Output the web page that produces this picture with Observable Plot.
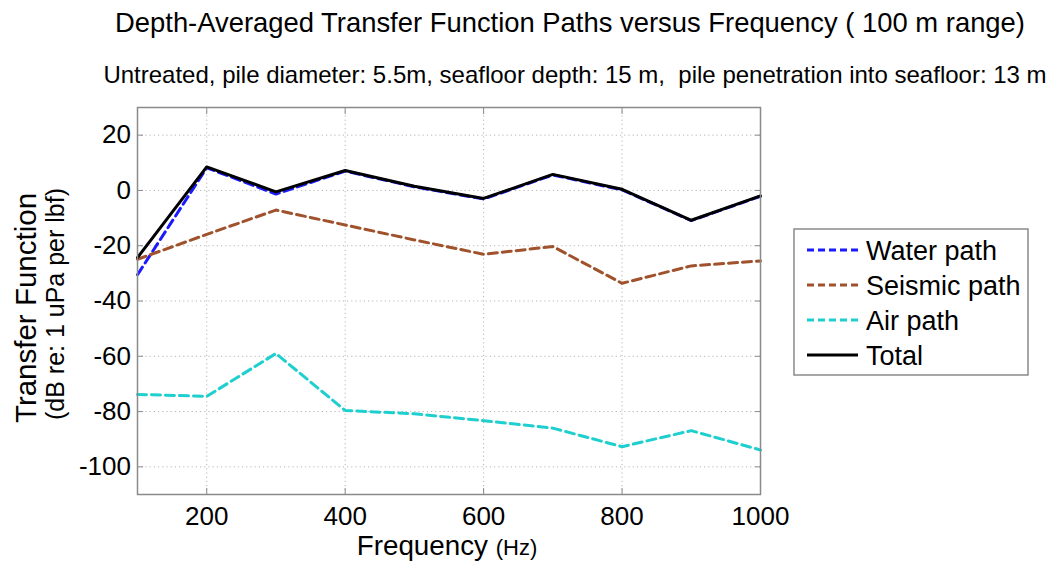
<!DOCTYPE html>
<html><head><meta charset="utf-8">
<script src="https://cdn.jsdelivr.net/npm/d3@7"></script>
<script src="https://cdn.jsdelivr.net/npm/@observablehq/plot@0.6"></script>
<style>body{margin:0;background:#fff} #chart{position:relative;width:1055px;height:564px}</style>
</head><body><div id="chart"></div>
<script>
// ---- data ----
const frequency   = [100, 200, 300, 400, 500, 600, 700, 800, 900, 1000];
const waterPath   = [-30.5, 8.2, -1.3, 7.0, 1.3, -3.1, 5.6, 0.2, -10.9, -2.1];
const seismicPath = [-24.9, -15.9, -7.1, -12.5, -17.9, -23.1, -20.3, -33.6, -27.3, -25.5];
const airPath     = [-73.8, -74.5, -59.0, -79.6, -80.8, -83.3, -86.0, -92.7, -86.9, -93.9];
const totalPath   = [-24.3, 8.5, -0.5, 7.2, 1.5, -2.9, 5.8, 0.4, -10.8, -2.0];

const seriesNames  = ["Water path", "Seismic path", "Air path", "Total"];
const seriesColors = ["#1a1aff", "#a0522d", "#1fcfcf", "#000000"];
const seriesDashed = [true, true, true, false];

const xTicks = [200, 400, 600, 800, 1000];
const yTicks = [-100, -80, -60, -40, -20, 0, 20];

const titleText    = "Depth-Averaged Transfer Function Paths versus Frequency ( 100 m range)";
const subtitleText = "Untreated, pile diameter: 5.5m, seafloor depth: 15 m,  pile penetration into seafloor: 13 m";
const xLabelMain = "Frequency", xLabelUnit = "(Hz)";
const yLabelMain = "Transfer Function", yLabelUnit = "(dB re: 1 uPa per lbf)";

// ---- build ----
const seriesValues = [waterPath, seismicPath, airPath, totalPath];
const rows = seriesNames.map((name, s) => frequency.map((f, i) => ({series: name, f, v: seriesValues[s][i]})));

const font = "'Liberation Sans', Arial, Helvetica, sans-serif";
const axisGrey = "#8a8a8a";
const dash = "9,5";
const plainNum = d => String(d);

const chart = Plot.plot({
  width: 1055, height: 564,
  marginLeft: 137, marginRight: 295, marginTop: 107, marginBottom: 70,
  style: {fontFamily: font, fontSize: "26px", color: "#000", background: "#fff"},
  x: {domain: [100, 1000]},
  y: {domain: [-110, 30]},
  marks: [
    Plot.ruleX(xTicks, {stroke: "#b5b5b5", strokeDasharray: "1.2,3", strokeWidth: 1}),
    Plot.ruleY(yTicks, {stroke: "#b5b5b5", strokeDasharray: "1.2,3", strokeWidth: 1}),
    ...rows.map((r, s) => Plot.line(r, {
      x: "f", y: "v", stroke: seriesColors[s], strokeWidth: 3,
      ...(seriesDashed[s] ? {strokeDasharray: dash} : {})
    })),
    Plot.frame({stroke: axisGrey, strokeWidth: 1.5}),
    Plot.axisX(xTicks, {anchor: "bottom", tickSize: -6, tickPadding: 18, stroke: axisGrey, fill: "#000", label: null, fontSize: 26, tickFormat: plainNum}),
    Plot.axisX(xTicks, {anchor: "top", tickSize: -6, stroke: axisGrey, label: null, tickFormat: () => ""}),
    Plot.axisY(yTicks, {anchor: "left", tickSize: -6, tickPadding: 12.5, stroke: axisGrey, fill: "#000", label: null, fontSize: 26, tickFormat: plainNum}),
    Plot.axisY(yTicks, {anchor: "right", tickSize: -6, stroke: axisGrey, label: null, tickFormat: () => ""})
  ]
});
document.getElementById("chart").appendChild(chart);

const svg = d3.select(chart);
svg.append("text").attr("x", 570).attr("y", 31.5).attr("text-anchor", "middle")
  .attr("font-family", font).attr("font-size", 27.4).attr("fill", "#000").style("white-space", "pre").text(titleText);
svg.append("text").attr("x", 575).attr("y", 83).attr("text-anchor", "middle")
  .attr("font-family", font).attr("font-size", 24).attr("fill", "#000").style("white-space", "pre").text(subtitleText);

const xl = svg.append("text").attr("x", 447).attr("y", 555).attr("text-anchor", "middle")
  .attr("font-family", font).attr("fill", "#000");
xl.append("tspan").attr("font-size", 27.8).text(xLabelMain + " ");
xl.append("tspan").attr("font-size", 22).text(xLabelUnit);

svg.append("text").attr("transform", "translate(36,308) rotate(-90)").attr("text-anchor", "middle")
  .attr("font-family", font).attr("font-size", 29.5).attr("fill", "#000").text(yLabelMain);
svg.append("text").attr("transform", "translate(64,304) rotate(-90)").attr("text-anchor", "middle")
  .attr("font-family", font).attr("font-size", 25).attr("fill", "#000").text(yLabelUnit);

// legend
const lg = svg.append("g").attr("transform", "translate(794,229)");
lg.append("rect").attr("width", 234).attr("height", 146).attr("fill", "#fff").attr("stroke", axisGrey).attr("stroke-width", 1.5);
seriesNames.forEach((name, i) => {
  const y = 21 + 35 * i;
  lg.append("line").attr("x1", 13).attr("x2", 64).attr("y1", y).attr("y2", y)
    .attr("stroke", seriesColors[i]).attr("stroke-width", 3)
    .attr("stroke-dasharray", seriesDashed[i] ? "7,4" : null);
  lg.append("text").attr("x", 72).attr("y", y).attr("dy", "0.36em").attr("text-anchor", "start")
    .attr("font-family", font).attr("font-size", 27).attr("fill", "#000").text(name);
});
</script>
</body></html>
